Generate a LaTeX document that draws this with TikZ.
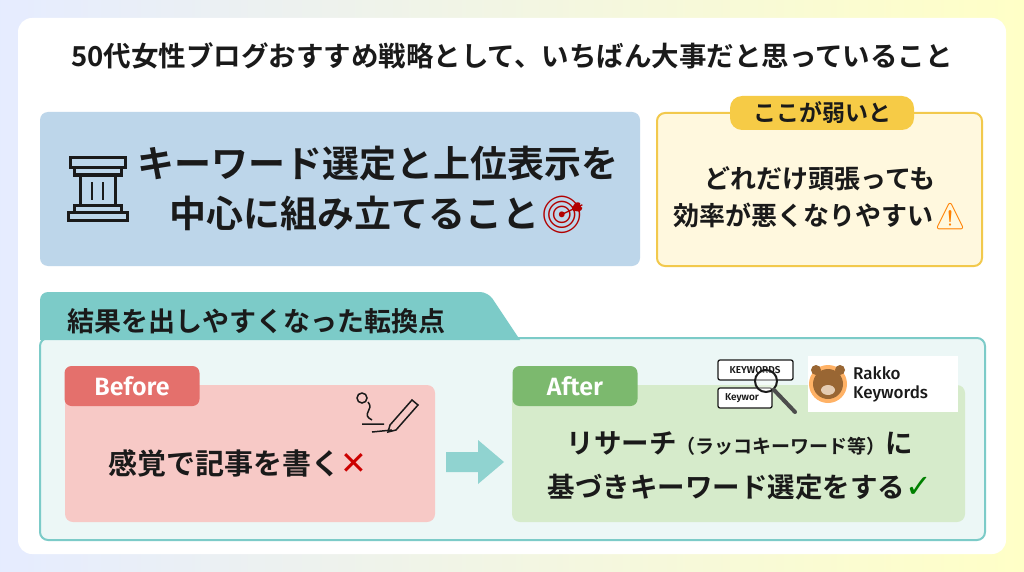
\documentclass[tikz,border=0pt]{standalone}
\usepackage{fontspec}
\setmainfont{Noto Sans CJK JP Bold}
\newfontfamily\emj{Noto Emoji}
\newfontfamily\sym{DejaVu Sans}[BoldFont=*]
\newfontfamily\lat{Fira Sans}[UprightFont=* SemiBold]
\newfontfamily\latr{Fira Sans}[UprightFont=* Medium]
\usetikzlibrary{arrows.meta}
\definecolor{bluebox}{HTML}{BDD6EA}
\definecolor{ylwfill}{HTML}{FFF8DE}
\definecolor{ylwline}{HTML}{F2C94C}
\definecolor{ylwtag}{HTML}{F6CB46}
\definecolor{teal}{HTML}{7CCBC8}
\definecolor{tealfill}{HTML}{ECF7F6}
\definecolor{pinkbox}{HTML}{F7C9C6}
\definecolor{redtag}{HTML}{E4706C}
\definecolor{greenbox}{HTML}{D6EBCB}
\definecolor{greentag}{HTML}{7CB96E}
\definecolor{txt}{HTML}{1A1A1A}
\tikzset{
  card/.style={rounded corners=8pt},
  tag/.style={rounded corners=7pt,text=white,font=\lat\fontsize{25}{26}\selectfont,inner sep=0pt},
  big/.style={font=\fontsize{37}{50}\selectfont,text=txt,align=center},
  mid/.style={font=\fontsize{26}{37}\selectfont,text=txt,align=center},
}
\begin{document}
\begin{tikzpicture}[x=1pt,y=-1pt]
\shade[left color=cyan!25!blue!10,right color=yellow!22] (0,0) rectangle (1024,572);
\useasboundingbox (0,0) rectangle (1024,572);
\fill[white,rounded corners=14pt] (18,18) rectangle (1006,554);
\node[font=\fontsize{27.5}{30}\selectfont,text=txt] (title) at (512,56) {50代女性ブログおすすめ戦略として、いちばん大事だと思っていること};
% blue box
\fill[bluebox,card] (40,112) rectangle (640,266);
\node[big] (main) at (378,190) {キーワード選定と上位表示を\\中心に組み立てること{\emj\textcolor{red!70!black}{🎯}}};
% pillar
\begin{scope}[line width=3pt,txt]
\draw (70,158) rectangle (125,168);
\draw (74,168) rectangle (121,175);
\draw (80,175) -- (80,205) (115,175) -- (115,205);
\draw[line width=2pt] (92,182) -- (92,200) (103,182) -- (103,200);
\draw (74,205) rectangle (121,212);
\draw (68,212) rectangle (127,220);
\end{scope}
% yellow box
\fill[ylwfill,card] (657,113) rectangle (982,266);
\draw[ylwline,line width=2pt,card] (657,113) rectangle (982,266);
\node[fill=ylwtag,rounded corners=12pt,minimum width=184pt,minimum height=34pt,font=\fontsize{23}{24}\selectfont,text=txt,inner sep=0pt] (weak) at (822,113) {ここが弱いと};
\node[mid] (eff) at (820,198) {どれだけ頭張っても\\効率が悪くなりやすい{\emj\textcolor{orange}{⚠}}};
% teal section
\fill[tealfill,card] (40,338) rectangle (985,540);
\draw[teal,line width=2pt,card] (40,338) rectangle (985,540);
\fill[teal,rounded corners=8pt] (40,340) -- (40,292) -- (488,292) [sharp corners] -- (520,340) -- cycle;
\node[font=\fontsize{27}{28}\selectfont,text=txt,anchor=west] (turn) at (64,321) {結果を出しやすくなった転換点};
% before
\fill[pinkbox,card] (65,385) rectangle (435,522);
\node[tag,fill=redtag,minimum width=135pt,minimum height=40pt] (before) at (132,386) {Before};
\node[mid,font=\fontsize{29}{30}\selectfont] (feel) at (238,463) {感覚で記事を書く{\sym\bfseries\fontsize{32}{32}\selectfont\textcolor{red!80!black}{✕}}};
% pencil icon
\begin{scope}[line width=1.5pt,txt]
\draw (362,398) circle (5);
\draw (368,402) .. controls (375,410) and (360,414) .. (372,420);
\draw (362,424) -- (384,424) (372,432) -- (392,430);
\draw (390,425) -- (412,400) -- (418,405) -- (396,430) -- (388,432) -- cycle;
\end{scope}
% arrow
\fill[teal!85] (446,452) -- (478,452) -- (478,440) -- (504,462) -- (478,484) -- (478,472) -- (446,472) -- cycle;
% after
\fill[greenbox,card] (512,385) rectangle (965,522);
\node[tag,fill=greentag,minimum width=125pt,minimum height=40pt] (after) at (575,386) {After};
\node[mid,font=\fontsize{27.5}{44}\selectfont] (res) at (740,466) {リサーチ{\fontsize{19}{20}\selectfont（ラッコキーワード等）}に\\基づきキーワード選定をする{\sym\bfseries\fontsize{32}{32}\selectfont\textcolor{green!50!black}{✓}}};
% keyword icon
\begin{scope}[line width=1.3pt,txt]
\draw[fill=white,rounded corners=2pt] (718,360) rectangle (793,380);
\node[font=\lat\fontsize{10}{10}\selectfont] (kw1) at (755,370) {KEYWORDS};
\draw[fill=white,rounded corners=2pt] (718,388) rectangle (772,408);
\node[font=\lat\fontsize{10}{10}\selectfont] (kw2) at (742,398) {Keywor};
\draw[line width=2pt,fill=white,fill opacity=0.4] (766,381) circle (11);
\draw[line width=4pt,line cap=round,gray!60!black] (774,390) -- (795,412);
\end{scope}
% rakko logo
\fill[white] (808,356) rectangle (958,412);
\fill[orange!60] (828,384) circle (19);
\fill[brown!80!black] (828,384) circle (15);
\fill[brown!80!black] (816,370) circle (5) (840,370) circle (5);
\fill[brown!40] (828,390) ellipse (7 and 5);
\node[font=\latr\fontsize{17}{19}\selectfont,text=txt,align=left,anchor=west,inner sep=0pt] (rakko) at (853,384) {Rakko\\Keywords};
\end{tikzpicture}
\end{document}
